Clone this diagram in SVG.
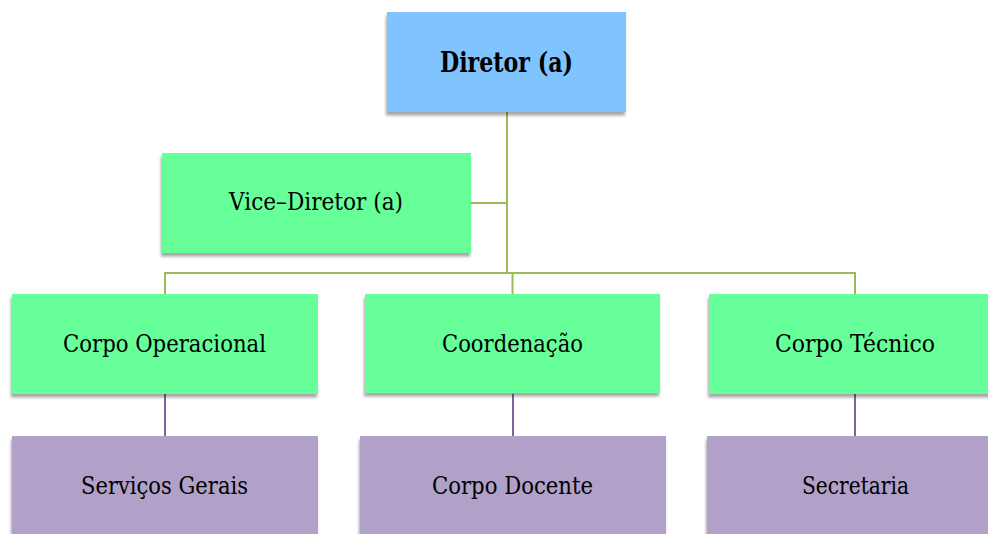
<svg xmlns="http://www.w3.org/2000/svg" width="988" height="534" viewBox="0 0 988 534">
<defs>
<filter id="sh" x="-10%" y="-10%" width="120%" height="130%">
<feDropShadow dx="-1" dy="3.5" stdDeviation="1.6" flood-color="#000" flood-opacity="0.35"/>
</filter>
<style>
.blue{fill:#80C4FF;filter:url(#sh)}
.green{fill:#66FF99;filter:url(#sh)}
.purple{fill:#B1A0C7;filter:url(#sh)}
.t{font-family:'DejaVu Serif',serif;font-size:25px;fill:#000;text-anchor:middle}
.b{font-weight:bold;font-size:27px}
.gl{stroke:#9BBB59;stroke-width:2;fill:none}
.pl{stroke:#8064A2;stroke-width:2;fill:none}
</style>
</defs>
<rect width="988" height="534" fill="#fff"/>
<g id="connectors">
<path class="gl" d="M507 112V273M471 203H507M165 294V273H855V294M512.5 273V294"/>
<path class="pl" d="M165 394V436M513 394V436M855 394V436"/>
</g>
<g id="diretor"><rect class="blue" x="387" y="12" width="239" height="100"/><text class="t b" x="506.5" y="72" textLength="133" lengthAdjust="spacingAndGlyphs">Diretor (a)</text></g>
<g id="vice"><rect class="green" x="162" y="153" width="309" height="100"/><text class="t" x="316" y="210" textLength="174" lengthAdjust="spacingAndGlyphs">Vice–Diretor (a)</text></g>
<g id="operacional"><rect class="green" x="12" y="294" width="306" height="100"/><text class="t" x="164.5" y="352" textLength="203" lengthAdjust="spacingAndGlyphs">Corpo Operacional</text></g>
<g id="coordenacao"><rect class="green" x="365" y="294" width="295" height="99"/><text class="t" x="512.5" y="352" textLength="141" lengthAdjust="spacingAndGlyphs">Coordenação</text></g>
<g id="tecnico"><rect class="green" x="709" y="294" width="292" height="100"/><text class="t" x="855" y="352" textLength="160" lengthAdjust="spacingAndGlyphs">Corpo Técnico</text></g>
<g id="servicos"><rect class="purple" x="12" y="436" width="306" height="110"/><text class="t" x="164.5" y="494" textLength="167" lengthAdjust="spacingAndGlyphs">Serviços Gerais</text></g>
<g id="docente"><rect class="purple" x="360" y="436" width="306" height="110"/><text class="t" x="512.5" y="494" textLength="161" lengthAdjust="spacingAndGlyphs">Corpo Docente</text></g>
<g id="secretaria"><rect class="purple" x="707" y="436" width="296" height="110"/><text class="t" x="855.5" y="494" textLength="107" lengthAdjust="spacingAndGlyphs">Secretaria</text></g>
</svg>
